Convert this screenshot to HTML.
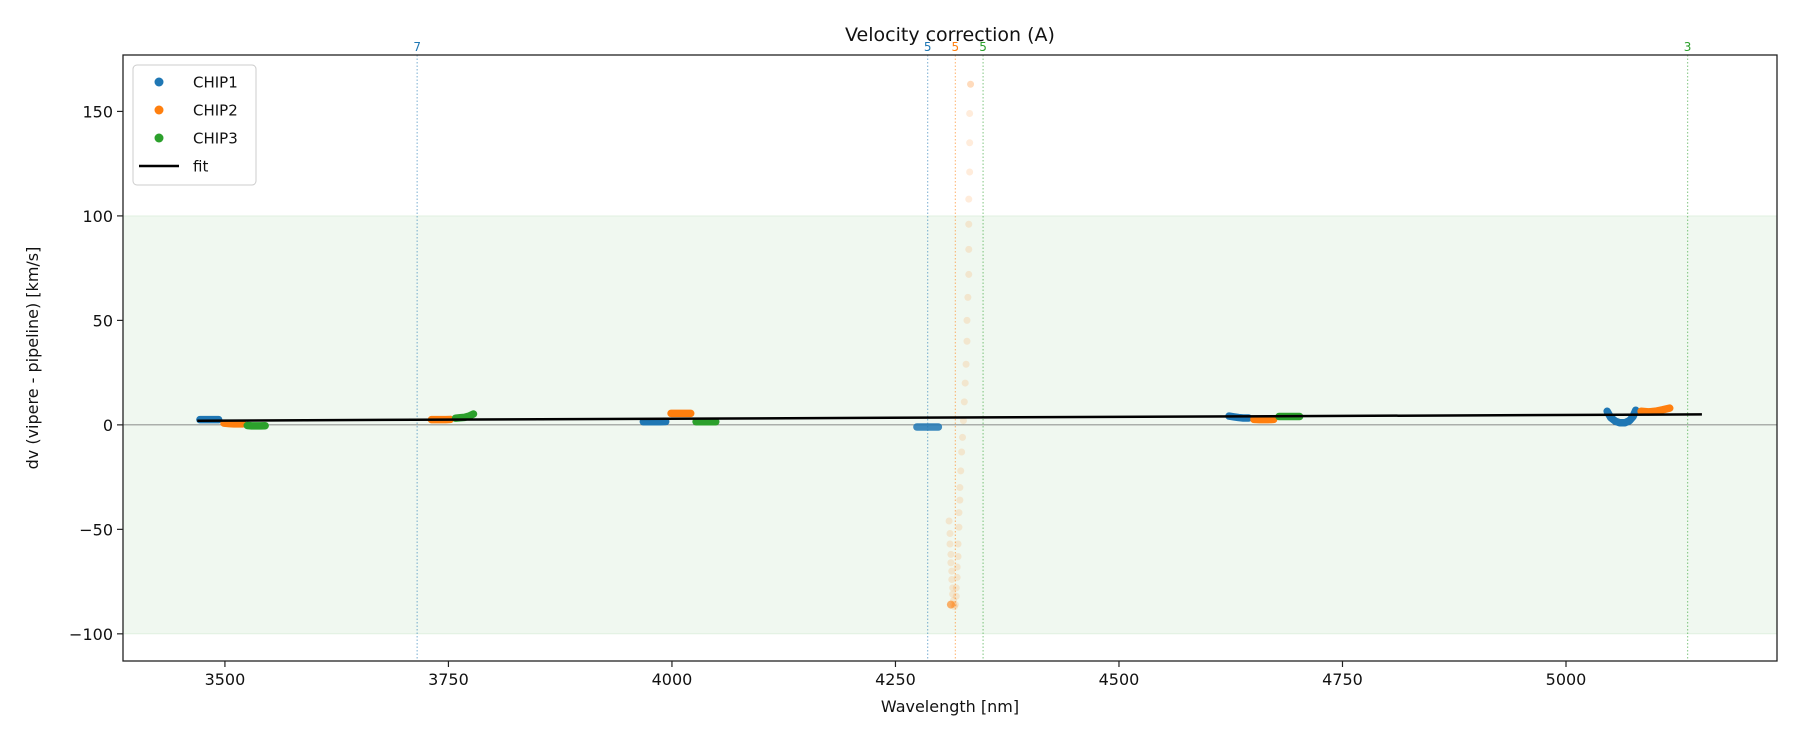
<!DOCTYPE html>
<html><head><meta charset="utf-8"><style>
body{margin:0;background:#fff;}
svg text{font-family:"DejaVu Sans","Liberation Sans",sans-serif;}
</style></head><body>
<svg id="chart" width="1800" height="750" viewBox="0 0 1800 750" xmlns="http://www.w3.org/2000/svg">
<g id="bg"></g><g id="marks"></g><g id="axes"></g>
</svg>
<script>
// ---- data ----
const xTicks = [3500, 3750, 4000, 4250, 4500, 4750, 5000];
const yTicks = [-100, -50, 0, 50, 100, 150];
const chipNames = ['CHIP1', 'CHIP2', 'CHIP3'];
const chipColors = ['#1f77b4', '#ff7f0e', '#2ca02c'];
const seg1x = [3472, 3478, 3484, 3489, 3493];         const seg1y = [2.5, 2.5, 2.5, 2.5, 2.5];
const seg2x = [3499, 3505, 3510, 3515, 3520];         const seg2y = [0.8, 0.6, 0.5, 0.5, 0.5];
const seg3x = [3525, 3530, 3535, 3540, 3545];         const seg3y = [-0.3, -0.5, -0.5, -0.5, -0.4];
const seg4x = [3731, 3737, 3742, 3747, 3752];         const seg4y = [2.5, 2.5, 2.5, 2.5, 2.6];
const seg5x = [3758, 3763, 3768, 3773, 3778];         const seg5y = [3.2, 3.4, 3.6, 4.2, 5.2];
const seg6x = [3968, 3975, 3981, 3987, 3993];         const seg6y = [1.5, 1.5, 1.5, 1.5, 1.6];
const seg7x = [3999, 4005, 4010, 4015, 4021];         const seg7y = [5.5, 5.5, 5.5, 5.5, 5.5];
const seg8x = [4027, 4033, 4038, 4043, 4049];         const seg8y = [1.5, 1.5, 1.5, 1.5, 1.5];
const seg9x = [4274, 4280, 4286, 4292, 4298];         const seg9y = [-1, -1, -1, -1, -1];
const seg10x = [4623, 4629, 4634, 4639, 4645];        const seg10y = [4.2, 3.8, 3.5, 3.3, 3.3];
const seg11x = [4651, 4657, 4662, 4667, 4673];        const seg11y = [2.6, 2.5, 2.5, 2.5, 2.6];
const seg12x = [4679, 4685, 4690, 4696, 4702];        const seg12y = [4, 4, 4, 4, 4];
const seg13x = [5046, 5050, 5055, 5060, 5066, 5071, 5075, 5078]; const seg13y = [6.5, 3.5, 1.8, 1.0, 1.0, 2.0, 4.0, 7.0];
const seg14x = [5084, 5092, 5100, 5108, 5116];        const seg14y = [6.5, 6.2, 6.5, 7.2, 8.0];
const segChip = [0,1,2,1,2,0,1,2,0,0,1,2,0,1];
const segAlpha = [1,1,1,1,1,1,1,1,0.85,1,1,1,1,1];
const segXs = [seg1x,seg2x,seg3x,seg4x,seg5x,seg6x,seg7x,seg8x,seg9x,seg10x,seg11x,seg12x,seg13x,seg14x];
const segYs = [seg1y,seg2y,seg3y,seg4y,seg5y,seg6y,seg7y,seg8y,seg9y,seg10y,seg11y,seg12y,seg13y,seg14y];
const outX = [4310,4311,4311,4312,4312,4313,4313,4314,4314,4315,4315,4316,4317,4318,4318,4319,4319,4320,4320,4321,4321,4322,4322,4323,4324,4325,4326,4327,4328,4329,4330,4330,4331,4332,4332];
const outY = [-46,-52,-57,-62,-66,-70,-74,-78,-81,-84,-86,-87,-86,-82,-78,-73,-68,-63,-57,-49,-42,-36,-30,-22,-13,-6,2,11,20,29,40,50,61,72,84];
const outX2 = [4332,4332,4333,4333,4333,4334,4334];
const outY2 = [96,108,121,135,149,163,163];
const vlineX = [3715, 4286, 4317, 4348, 5136];
const vlineLabel = ['7','5','5','5','3'];
const vlineChip = [0,0,1,2,2];
const fitX = [3469, 5152];
const fitY = [2.0, 5.0];

// ---- scales ----
const L=123, R=1777, T=55, B=661;
const xMin=3386, xMax=5236, yMin=-113, yMax=177;
const sx = v => L + (v - xMin) / (xMax - xMin) * (R - L);
const sy = v => B - (v - yMin) / (yMax - yMin) * (B - T);
const NS='http://www.w3.org/2000/svg';
function mk(tag, attrs, parent){const e=document.createElementNS(NS,tag);for(const k in attrs)e.setAttribute(k,attrs[k]);parent.appendChild(e);return e;}
const bg=document.getElementById('bg'), marks=document.getElementById('marks'), axes=document.getElementById('axes');

let band=mk('rect',{x:L,y:sy(100),width:R-L,height:sy(-100)-sy(100),fill:'#2ca02c','fill-opacity':0.07,stroke:'#2ca02c','stroke-opacity':0.1,'stroke-width':1},bg);


let zl=mk('line',{x1:L,x2:R,y1:sy(0),y2:sy(0),stroke:'#666','stroke-width':0.8},bg);



vlineX.forEach((v,i)=>{
  const c=chipColors[vlineChip[i]];
  let l=mk('line',{x1:sx(v),x2:sx(v),y1:T,y2:B,stroke:c,'stroke-opacity':0.5,'stroke-width':1.2,'stroke-dasharray':'1.5,2'},bg);
  
  
  let t=mk('text',{x:sx(v),y:T-4,'text-anchor':'middle','font-size':12,fill:c},bg);
  t.textContent=vlineLabel[i];
  
  
});

outX.concat(outX2).forEach((v,i)=>{
  const yv=outY.concat(outY2)[i];
  let c=mk('circle',{cx:sx(v),cy:sy(yv),r:3.5,fill:'#ff7f0e','fill-opacity':0.15},marks);
  
  
});
let oc=mk('circle',{cx:sx(4312),cy:sy(-86),r:4,fill:'#ff7f0e','fill-opacity':0.6},marks);



segXs.forEach((xs,i)=>{
  const c=chipColors[segChip[i]];
  const pts=xs.map((v,j)=>sx(v)+','+sy(segYs[i][j])).join(' ');
  let p=mk('polyline',{points:pts,fill:'none',stroke:c,'stroke-opacity':segAlpha[i],'stroke-width':7.5,'stroke-linecap':'round','stroke-linejoin':'round'},marks);
  
  
});

let fl=mk('line',{x1:sx(fitX[0]),y1:sy(fitY[0]),x2:sx(fitX[1]),y2:sy(fitY[1]),stroke:'#000','stroke-width':2.5},marks);



let fr=mk('rect',{x:L,y:T,width:R-L,height:B-T,fill:'none',stroke:'#222','stroke-width':1.3},axes);


xTicks.forEach(v=>{
  mk('line',{x1:sx(v),x2:sx(v),y1:B,y2:B+6,stroke:'#222','stroke-width':1.2},axes);
  let t=mk('text',{x:sx(v),y:B+24,'text-anchor':'middle','font-size':16,fill:'#111'},axes);
  t.textContent=v;
  
  
});
yTicks.forEach(v=>{
  mk('line',{x1:L-6,x2:L,y1:sy(v),y2:sy(v),stroke:'#222','stroke-width':1.2},axes);
  let t=mk('text',{x:L-10,y:sy(v)+6,'text-anchor':'end','font-size':16,fill:'#111'},axes);
  t.textContent=v<0?'\u2212'+Math.abs(v):String(v);
  
  
});
let xt=mk('text',{x:(L+R)/2,y:B+51,'text-anchor':'middle','font-size':16,fill:'#111'},axes);
xt.textContent='Wavelength [nm]';


let yt=mk('text',{x:0,y:0,'text-anchor':'middle','font-size':16,fill:'#111',transform:`translate(38,${(T+B)/2}) rotate(-90)`},axes);
yt.textContent='dv (vipere - pipeline) [km/s]';


let tt=mk('text',{x:(L+R)/2,y:41,'text-anchor':'middle','font-size':19,fill:'#111'},axes);
tt.textContent='Velocity correction (A)';



const lg=mk('g',{},axes);


mk('rect',{x:133,y:65,width:123,height:120,rx:4,fill:'#fff','fill-opacity':0.85,stroke:'#ccc','stroke-width':1},lg);
const legY=[82,110,138,166];
chipNames.forEach((n,i)=>{
  mk('circle',{cx:159,cy:legY[i],r:4.5,fill:chipColors[i]},lg);
  let t=mk('text',{x:193,y:legY[i]+5.5,'font-size':15,fill:'#111'},lg);
  t.textContent=n;
  
  
});
mk('line',{x1:139,x2:179,y1:legY[3],y2:legY[3],stroke:'#000','stroke-width':2.5},lg);
let ft=mk('text',{x:193,y:legY[3]+5.5,'font-size':15,fill:'#111'},lg);
ft.textContent='fit';


</script>
</body></html>
